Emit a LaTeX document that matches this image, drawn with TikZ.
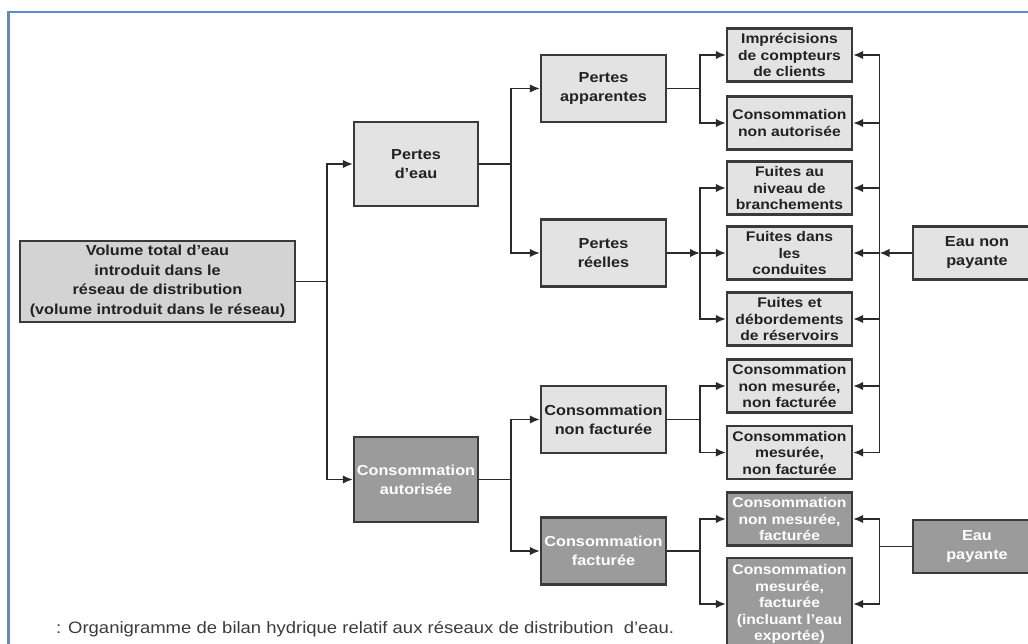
\documentclass[tikz,border=0pt]{standalone}
\usepackage{fontspec}
\setmainfont{Liberation Sans}[FakeStretch=1.12]
\usetikzlibrary{arrows.meta}
\definecolor{bordc}{HTML}{3A3A3A}
\definecolor{lightc}{HTML}{E3E3E3}
\definecolor{volc}{HTML}{D3D3D3}
\definecolor{darkc}{HTML}{9B9B9B}
\definecolor{textc}{HTML}{222222}
\definecolor{linec}{HTML}{2A2A2A}
\definecolor{capc}{HTML}{3C3C3C}
\definecolor{framec}{HTML}{5B8BC9}
\tikzset{
  box/.style={draw=bordc, line width=2.2pt, fill=lightc, align=center, inner sep=0pt,
    font=\bfseries\fontsize{14}{16.5}\selectfont, text=textc},
  midbox/.style={box, minimum width=125pt, minimum height=67pt,
    font=\bfseries\fontsize{14.5}{19}\selectfont},
  rbox/.style={box, minimum width=125pt, minimum height=53pt},
  sidebox/.style={box, minimum width=128pt, minimum height=53pt,
    font=\bfseries\fontsize{14.5}{19}\selectfont},
  darkbox/.style={fill=darkc, text=white},
  conn/.style={draw=linec, line width=1.8pt},
  arr/.style={conn, -{Latex[length=10pt,width=8.5pt]}},
}
\begin{document}
\begin{tikzpicture}[x=1pt, y=-1pt]
\useasboundingbox (0,0) rectangle (1028,644);
\clip (0,0) rectangle (1028,644);
\fill[white] (0,0) rectangle (1028,644);
\draw[framec, line width=2.5pt] (8.5,660) -- (8.5,12) -- (1040,12);

% level 0
\node[box, minimum width=275pt, minimum height=81pt, fill=volc,
  font=\bfseries\fontsize{14.5}{19.5}\selectfont] (vol) at (157.5,281.5)
  {Volume total d'eau\\introduit dans le\\réseau de distribution\\(volume introduit dans le réseau)};

% level 1
\node[midbox, minimum width=124pt, minimum height=84pt] (pe) at (416,164) {Pertes\\d'eau};
\node[midbox, minimum width=124pt, minimum height=85pt, darkbox] (ca) at (416,479.5) {Consommation\\autorisée};

% level 2
\node[midbox] (pa) at (603.5,88.5) {Pertes\\apparentes};
\node[midbox] (pr) at (603.5,253) {Pertes\\réelles};
\node[midbox] (cnf) at (603.5,419.5) {Consommation\\non facturée};
\node[midbox, darkbox] (cf) at (603.5,551) {Consommation\\facturée};

% level 3
\node[rbox] (r1) at (789.5,55) {Imprécisions\\de compteurs\\de clients};
\node[rbox] (r2) at (789.5,123) {Consommation\\non autorisée};
\node[rbox] (r3) at (789.5,188) {Fuites au\\niveau de\\branchements};
\node[rbox] (r4) at (789.5,253) {Fuites dans\\les\\conduites};
\node[rbox] (r5) at (789.5,319) {Fuites et\\débordements\\de réservoirs};
\node[rbox] (r6) at (789.5,386) {Consommation\\non mesurée,\\non facturée};
\node[rbox] (r7) at (789.5,452.5) {Consommation\\mesurée,\\non facturée};
\node[rbox, darkbox] (r8) at (789.5,519) {Consommation\\non mesurée,\\facturée};
\node[rbox, darkbox, minimum height=92pt] (r9) at (789.5,604)
  {Consommation\\mesurée,\\facturée\\(incluant l'eau\\exportée)};

% side boxes
\node[sidebox] (enp) at (977,253) {Eau non\\payante};
\node[sidebox, darkbox] (ep) at (977,546.5) {Eau\\payante};

% junction coordinates
\coordinate (j0) at (327,0);
\coordinate (j1) at (511,0);
\coordinate (j2) at (700,0);
\coordinate (j3) at (879.5,0);

% level 0 -> 1
\draw[conn] (vol.east) -- (vol.east -| j0);
\draw[arr] (vol.east -| j0) |- (pe.west);
\draw[arr] (vol.east -| j0) |- (ca.west);

% level 1 -> 2
\draw[conn] (pe.east) -- (pe.east -| j1);
\draw[arr] (pe.east -| j1) |- (pa.west);
\draw[arr] (pe.east -| j1) |- (pr.west);
\draw[conn] (ca.east) -- (ca.east -| j1);
\draw[arr] (ca.east -| j1) |- (cnf.west);
\draw[arr] (ca.east -| j1) |- (cf.west);

% level 2 -> 3
\draw[conn] (pa.east) -- (pa.east -| j2);
\draw[arr] (pa.east -| j2) |- (r1.west);
\draw[arr] (pa.east -| j2) |- (r2.west);
\draw[arr] (pr.east) -- (pr.east -| j2);
\draw[arr] (pr.east -| j2) -- (r4.west);
\draw[arr] (pr.east -| j2) |- (r3.west);
\draw[arr] (pr.east -| j2) |- (r5.west);
\draw[conn] (cnf.east) -- (cnf.east -| j2);
\draw[arr] (cnf.east -| j2) |- (r6.west);
\draw[arr] (cnf.east -| j2) |- (r7.west);
\draw[conn] (cf.east) -- (cf.east -| j2);
\draw[arr] (cf.east -| j2) |- (r8.west);
\draw[arr] (cf.east -| j2) |- (r9.west);

% eau non payante
\draw[conn] (r1.east -| j3) -- (r7.east -| j3);
\draw[arr] (enp.west) -- (enp.west -| j3);
\foreach \r in {r1,r2,r3,r4,r5,r6,r7}
  \draw[arr] (\r.east -| j3) -- (\r.east);

% eau payante
\draw[conn] (ep.west) -- (ep.west -| j3);
\draw[conn] (r8.east -| j3) -- (r9.east -| j3);
\draw[arr] (r8.east -| j3) -- (r8.east);
\draw[arr] (r9.east -| j3) -- (r9.east);

% caption
\node[anchor=west, inner sep=0pt, font=\fontsize{16.5}{18}\selectfont, text=capc] (cap) at (56,629)
  {: Organigramme de bilan hydrique relatif aux réseaux de distribution\ \ d'eau.};
\end{tikzpicture}
\end{document}
